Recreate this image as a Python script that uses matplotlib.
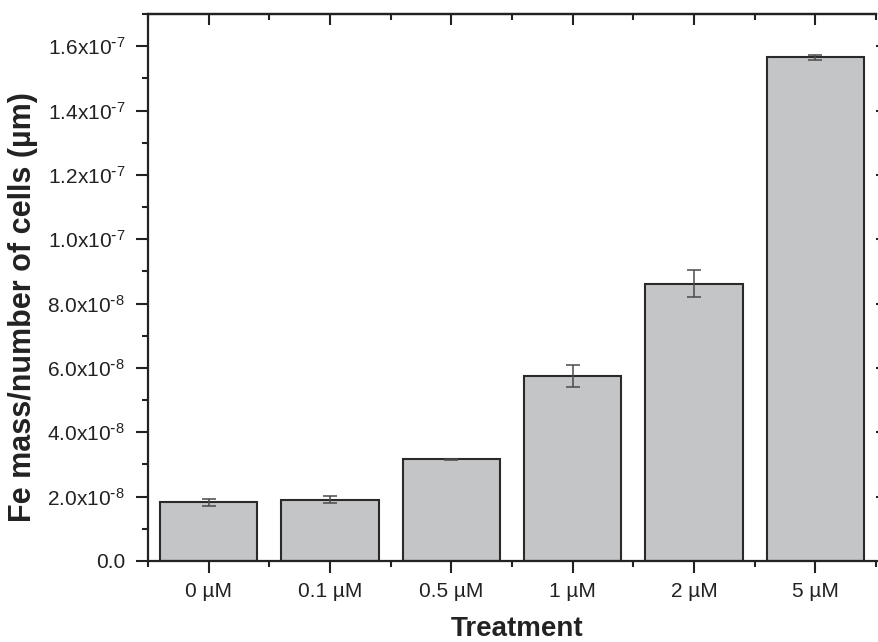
import matplotlib
matplotlib.use("Agg")
import matplotlib.pyplot as plt
from matplotlib.ticker import FuncFormatter, MultipleLocator

plt.rcParams['font.family'] = ['Liberation Sans', 'DejaVu Sans']
plt.rcParams['mathtext.default'] = 'regular'

# Données : masse de Fe par cellule selon le traitement
traitements = ["0 µM", "0.1 µM", "0.5 µM", "1 µM", "2 µM", "5 µM"]
moyennes = [1.82e-8, 1.90e-8, 3.16e-8, 5.75e-8, 8.62e-8, 1.565e-7]
erreurs = [1.1e-9, 1.1e-9, 0.1e-9, 3.4e-9, 4.1e-9, 0.7e-9]

couleur_axe = "#222222"


def format_sci(val, pos):
    if val == 0:
        return "0.0"
    exp = 0
    mant = val
    while abs(mant) >= 10:
        mant /= 10
        exp += 1
    while abs(mant) < 1:
        mant *= 10
        exp -= 1
    # exposant avec un tiret simple
    return r"$%.1fx10^{\text{-}%d}$" % (mant, -exp)


fig = plt.figure(figsize=(8.79, 6.42), dpi=100)
ax = fig.add_axes([148 / 879, 81 / 642, 728 / 879, 547 / 642])

x = list(range(len(traitements)))
ax.bar(x, moyennes, width=0.8, color="#c4c5c7", edgecolor="#2a2a2a",
       linewidth=1.5, zorder=2)
ax.errorbar(x, moyennes, yerr=erreurs, fmt="none", ecolor="#4a4a4a",
            elinewidth=1.1, capsize=4.8, capthick=1.1, zorder=3)

ax.set_xlim(-0.5, 5.5)
ax.set_ylim(0, 1.7e-7)

# axes et graduations
ax.spines['right'].set_visible(False)
for s in ['left', 'bottom', 'top']:
    ax.spines[s].set_linewidth(1.6)
    ax.spines[s].set_color(couleur_axe)

ax.set_xticks(x)
ax.set_xticklabels(traitements)
ax.xaxis.set_minor_locator(MultipleLocator(1, offset=0.5))
ax.yaxis.set_major_locator(MultipleLocator(2e-8))
ax.yaxis.set_minor_locator(MultipleLocator(1e-8))
ax.yaxis.set_major_formatter(FuncFormatter(format_sci))

ax.tick_params(axis='both', which='major', direction='out', length=8.5,
               width=1.5, color=couleur_axe, labelsize=15, labelcolor="#222222",
               pad=6.5)
ax.tick_params(axis='y', which='major', pad=8)
ax.tick_params(axis='both', which='minor', direction='out', length=4.5,
               width=1.5, color=couleur_axe)
ax.tick_params(axis='x', which='both', top=False)
ax.tick_params(axis='y', which='both', right=False)

# graduations du haut vers l'intérieur
haut = ax.secondary_xaxis('top')
haut.set_xticks(x)
haut.xaxis.set_minor_locator(MultipleLocator(1, offset=0.5))
haut.tick_params(which='major', direction='in', length=8, width=1.5,
                 color=couleur_axe, labeltop=False)
haut.tick_params(which='minor', direction='in', length=4, width=1.5,
                 color=couleur_axe)
haut.spines['top'].set_linewidth(1.6)
haut.spines['top'].set_color(couleur_axe)

# petites graduations à droite
droite = ax.secondary_yaxis('right')
droite.yaxis.set_major_locator(MultipleLocator(2e-8))
droite.tick_params(which='major', direction='out', length=2.5, width=1.5,
                   color=couleur_axe, labelright=False)
droite.spines['right'].set_visible(False)

ax.set_ylabel("Fe mass/number of cells (µm)", fontsize=22, fontweight='bold',
              color="#222222", va='center')
ax.yaxis.set_label_coords(-0.172, 0.464)
ax.set_xlabel("Treatment", fontsize=20, fontweight='bold', color="#222222",
              va='baseline')
ax.xaxis.set_label_coords(0.5076, (561 - 636.5) / 547)

fig.savefig("out.png", dpi=100)
